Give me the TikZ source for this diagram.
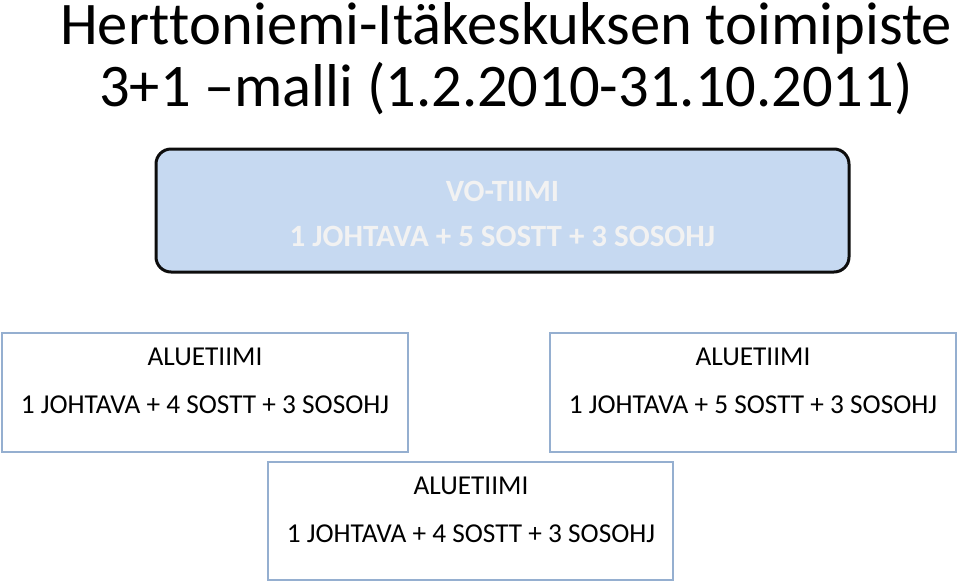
\documentclass[tikz,border=0pt]{standalone}
\usepackage{fontspec}
\setmainfont[RawFeature={-liga;-clig;-dlig;-calt}]{Carlito}
\definecolor{topfill}{HTML}{C6D9F1}
\definecolor{topline}{HTML}{0D0D0D}
\definecolor{boxline}{HTML}{95AFD0}
\definecolor{toptext}{HTML}{F2F2F2}
\begin{document}
\begin{tikzpicture}[x=1pt,y=-1pt,
  title/.style={anchor=base,inner sep=0pt,font=\fontsize{60.5}{60.5}\selectfont},
  teambox/.style={draw=boxline,line width=1.5pt,fill=white},
  voteam/.style={draw=topline,line width=3pt,fill=topfill,rounded corners=15pt},
  toplabel/.style={anchor=base,inner sep=0pt,text=toptext,font=\bfseries\fontsize{31}{31}\selectfont},
  label/.style={anchor=base,inner sep=0pt,font=\fontsize{27.3}{27.3}\selectfont}]
\useasboundingbox (0,0) rectangle (959,582);
\node[title] (t1) at (506,44) {Hert\kern0ptt\kern0ptoniemi-Itäkeskuksen toimipiste};
\node[title] (t2) at (506,106) {3+1 –malli (1.2.2010-31.10.2011)};
\draw[voteam] (156,149) rectangle (849,272);
\node[toplabel] (vo1) at (502.5,201) {VO-TIIMI};
\node[toplabel] (vo2) at (502.5,246) {1 JOHTAVA + 5 SOSTT + 3 SOSOHJ};
\draw[teambox] (2,333) rectangle (408,452);
\node[label] (a1) at (205,365) {ALUETIIMI};
\node[label] (a2) at (205,413) {1 JOHTAVA + 4 SOSTT + 3 SOSOHJ};
\draw[teambox] (550,333) rectangle (956,452);
\node[label] (b1) at (753,365) {ALUETIIMI};
\node[label] (b2) at (753,413) {1 JOHTAVA + 5 SOSTT + 3 SOSOHJ};
\draw[teambox] (268,462) rectangle (673,580);
\node[label] (c1) at (471,494) {ALUETIIMI};
\node[label] (c2) at (471,542) {1 JOHTAVA + 4 SOSTT + 3 SOSOHJ};
\end{tikzpicture}
\end{document}
